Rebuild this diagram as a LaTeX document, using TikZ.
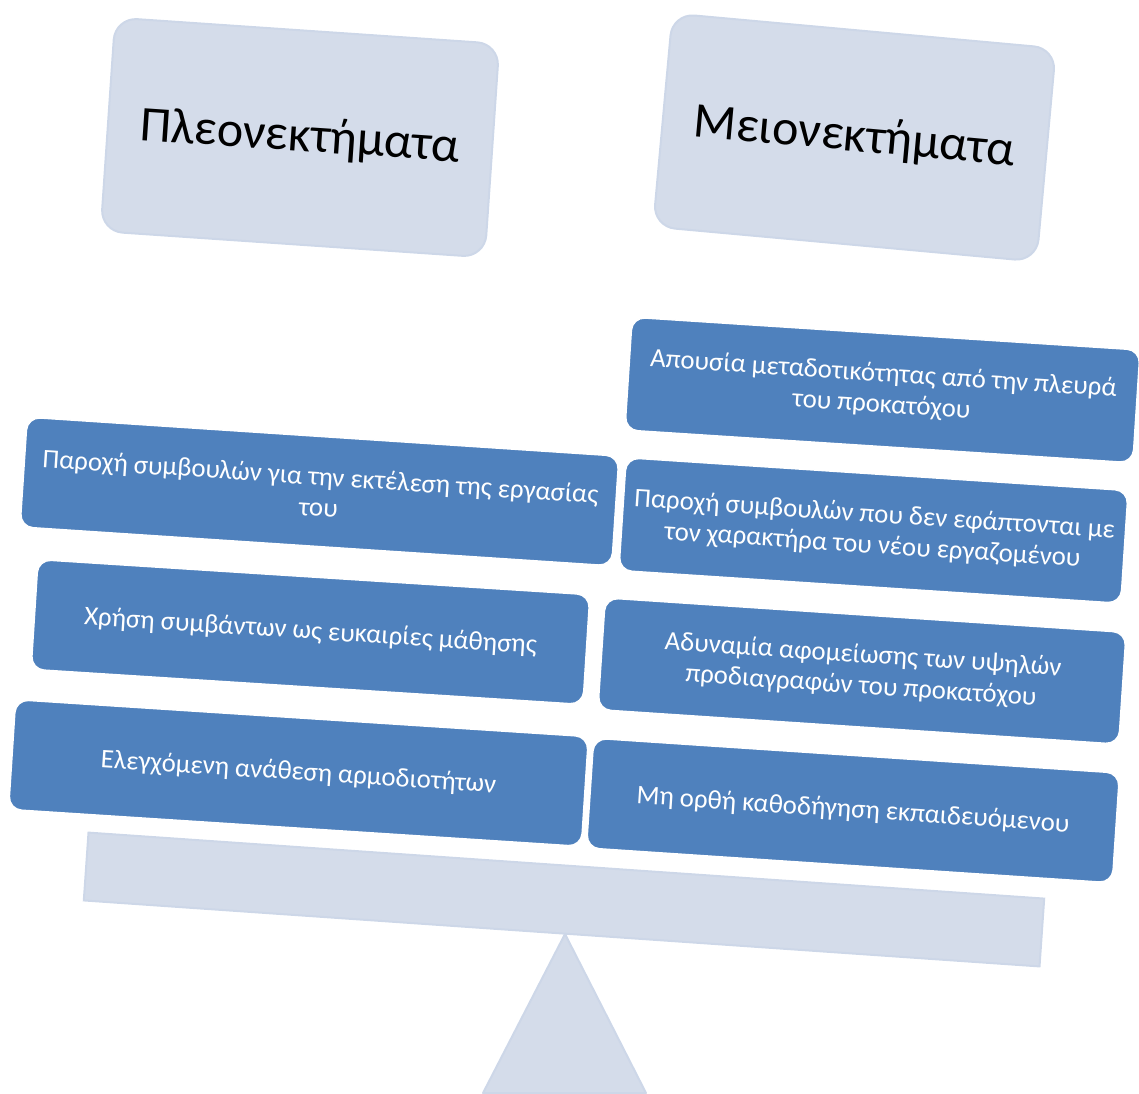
\documentclass[tikz,border=0pt]{standalone}
\usepackage{fontspec}
\setmainfont{Carlito}
\definecolor{itemblue}{HTML}{4F81BD}
\definecolor{paleblue}{HTML}{D4DCEA}
\definecolor{paleedge}{HTML}{CDD7E8}
\begin{document}
\begin{tikzpicture}[x=1pt,y=-1pt,
  titlebox/.style={draw=paleedge, line width=2pt, fill=paleblue,
    rounded corners=22pt, minimum width=385pt, minimum height=214pt,
    inner sep=0pt, text=black, font=\fontsize{50}{58}\selectfont},
  itembox/.style={draw=white, line width=1.5pt, fill=itemblue,
    rounded corners=13pt, minimum height=110pt, inner sep=0pt,
    align=center, text=white, font=\fontsize{26.8}{31}\selectfont},
  beambar/.style={draw=paleedge, line width=2pt, fill=paleblue,
    minimum width=958pt, minimum height=68pt, inner sep=0pt},
  fulcrum/.style={draw=paleedge, line width=2pt, fill=paleblue, line join=round}
]
\useasboundingbox (0,0) rectangle (1139,1093);

% headings
\node[titlebox, rotate=-3.9] (pros) at (300,137.5) {Πλεονεκτήματα};
\node[titlebox, rotate=-5.2] (cons) at (854.5,137.5) {Μειονεκτήματα};

% fulcrum and beam of the scale
\coordinate (apex) at (565,934);
\coordinate (baseL) at (483,1093);
\coordinate (baseR) at (646,1093);
\filldraw[fulcrum] (apex) -- (baseR) -- (baseL) -- cycle;
\node[beambar, rotate=-3.95] (beam) at (564,899.5) {};

% advantages
\node[itembox, rotate=-3.77, minimum width=593pt] (a1) at (319.5,491.5)
  {Παροχή συμβουλών για την εκτέλεση της εργασίας\\του};
\node[itembox, rotate=-3.65, minimum width=553pt] (a2) at (310.5,632)
  {Χρήση συμβάντων ως ευκαιρίες μάθησης};
\node[itembox, rotate=-3.7, minimum width=574pt] (a3) at (298.5,773)
  {Ελεγχόμενη ανάθεση αρμοδιοτήτων};

% disadvantages
\node[itembox, rotate=-3.7, minimum width=509pt, minimum height=113pt] (d1) at (882.5,390)
  {Απουσία μεταδοτικότητας από την πλευρά\\του προκατόχου};
\node[itembox, rotate=-3.75, minimum width=503pt, minimum height=113pt] (d2) at (873.5,530.5)
  {Παροχή συμβουλών που δεν εφάπτονται με\\τον χαρακτήρα του νέου εργαζομένου};
\node[itembox, rotate=-3.8, minimum width=522pt, minimum height=112pt] (d3) at (862,671)
  {Αδυναμία αφομείωσης των υψηλών\\προδιαγραφών του προκατόχου};
\node[itembox, rotate=-3.8, minimum width=527pt] (d4) at (853,810.5)
  {Μη ορθή καθοδήγηση εκπαιδευόμενου};
\end{tikzpicture}
\end{document}
